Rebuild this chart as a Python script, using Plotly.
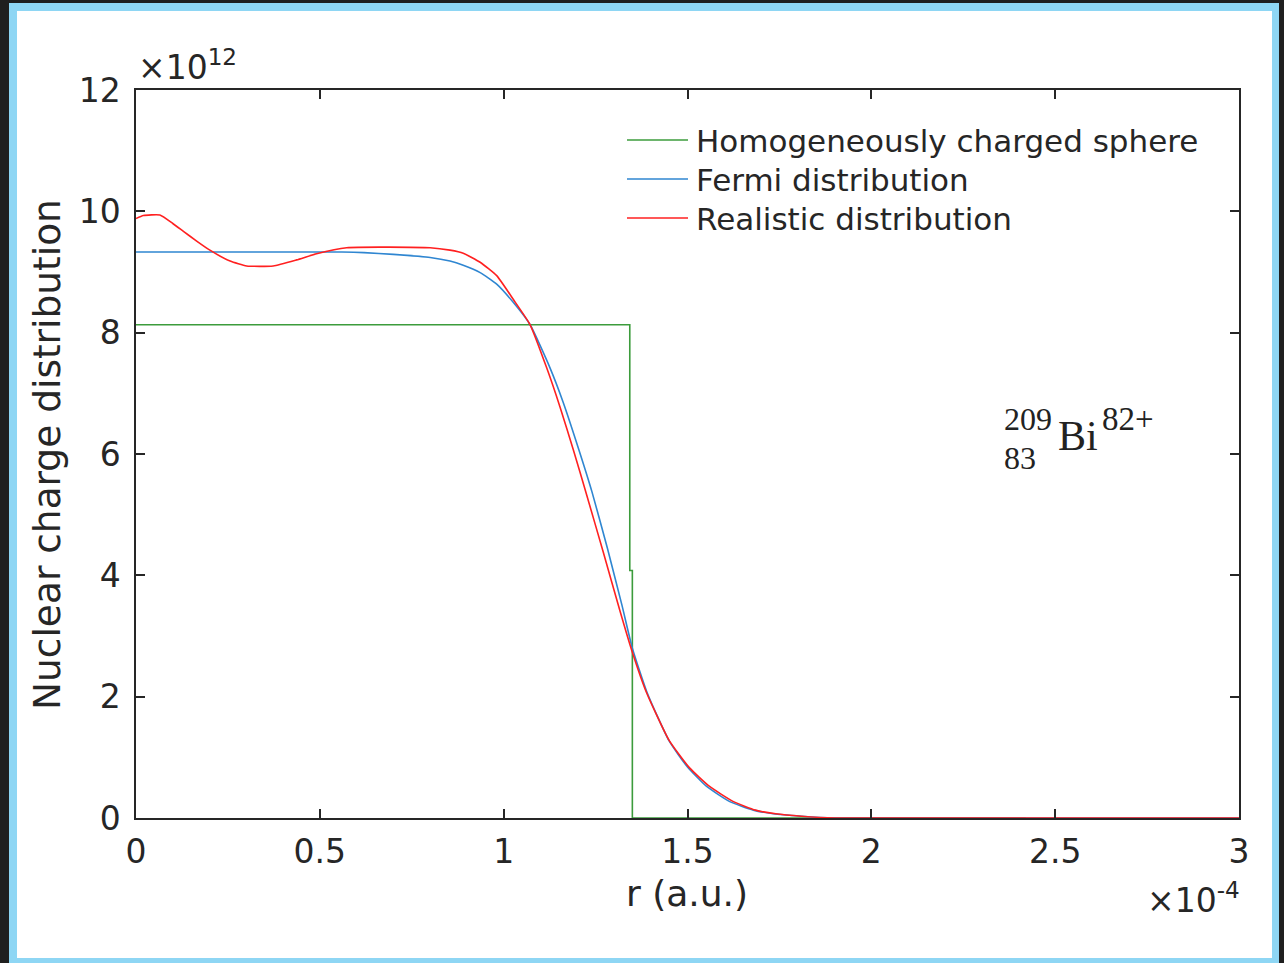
import plotly.graph_objects as go

# r in units of 1e-4 a.u., charge distribution in units of 1e12
r_sphere = [0.0, 1.343, 1.343, 1.350, 1.350, 2.42]
v_sphere = [8.13, 8.13, 4.08, 4.08, 0.0, 0.0]

r_fermi = [0.0, 0.56, 0.62, 0.70, 0.80, 0.854, 0.89, 0.936, 0.981, 1.026, 1.072,
           1.126, 1.162, 1.203, 1.240, 1.282, 1.322, 1.350, 1.390, 1.45, 1.50, 1.552,
           1.615, 1.679, 1.733, 1.81, 1.90, 3.0]
v_fermi = [9.33, 9.33, 9.32, 9.29, 9.24, 9.18, 9.11, 8.99, 8.80, 8.50, 8.13,
           7.42, 6.85, 6.10, 5.38, 4.45, 3.50, 2.80, 2.07, 1.27, 0.84, 0.52,
           0.27, 0.13, 0.07, 0.03, 0.0, 0.0]

r_real = [0.0, 0.02, 0.065, 0.10, 0.129, 0.165, 0.201, 0.256, 0.301, 0.373, 0.437,
          0.491, 0.573, 0.80, 0.854, 0.89, 0.936, 0.981, 1.026, 1.072, 1.117, 1.153,
          1.189, 1.226, 1.271, 1.316, 1.348, 1.389, 1.45, 1.505, 1.56, 1.625, 1.685,
          1.74, 1.81, 1.90, 3.0]
v_real = [9.88, 9.93, 9.94, 9.80, 9.67, 9.51, 9.36, 9.18, 9.10, 9.10, 9.20,
          9.30, 9.40, 9.40, 9.36, 9.31, 9.16, 8.94, 8.55, 8.13, 7.42, 6.78,
          6.08, 5.32, 4.38, 3.42, 2.77, 2.06, 1.28, 0.83, 0.52, 0.27, 0.13,
          0.07, 0.03, 0.0, 0.0]

x_ticks = [0, 0.5, 1, 1.5, 2, 2.5, 3]
x_labels = ["0", "0.5", "1", "1.5", "2", "2.5", "3"]
y_ticks = [0, 2, 4, 6, 8, 10, 12]
y_labels = ["0", "2", "4", "6", "8", "10", "12"]

series_names = ["Homogeneously charged sphere", "Fermi distribution", "Realistic distribution"]
series_colors = ["#3c9c3c", "#2f86d1", "#ff2020"]

W, H = 1284, 963
L, R, T, B = 136, 1239, 90, 818


def px(x):
    return (x - L) / (R - L)


def py(y):
    return (B - y) / (B - T)


fig = go.Figure()
fig.add_trace(go.Scatter(x=r_sphere, y=v_sphere, mode="lines", name=series_names[0],
                         line=dict(color=series_colors[0], width=1.6), showlegend=False))
fig.add_trace(go.Scatter(x=r_fermi, y=v_fermi, mode="lines", name=series_names[1],
                         line=dict(color=series_colors[1], width=1.6, shape="spline", smoothing=0.5),
                         showlegend=False))
fig.add_trace(go.Scatter(x=r_real, y=v_real, mode="lines", name=series_names[2],
                         line=dict(color=series_colors[2], width=1.6, shape="spline", smoothing=0.5),
                         showlegend=False))

axis_col = "#262626"
font = "DejaVu Sans"

shapes = [
    dict(type="rect", xref="paper", yref="paper", layer="below",
         x0=px(9), x1=px(1279), y0=py(3), y1=py(964),
         fillcolor="#8ed6f4", line=dict(width=0)),
    dict(type="rect", xref="paper", yref="paper", layer="below",
         x0=px(17), x1=px(1272), y0=py(11), y1=py(958),
         fillcolor="white", line=dict(width=0)),
]
annotations = []
leg_y = [140, 179, 218]
for name, col, yy in zip(series_names, series_colors, leg_y):
    shapes.append(dict(type="line", xref="paper", yref="paper",
                       x0=px(627), x1=px(688), y0=py(yy), y1=py(yy),
                       line=dict(color=col, width=1.6)))
    annotations.append(dict(xref="paper", yref="paper", x=px(694), y=py(yy + 1),
                            xanchor="left", yanchor="middle", showarrow=False,
                            text=name, font=dict(family=font, size=31, color=axis_col)))

annotations += [
    dict(xref="paper", yref="paper", x=px(687), y=py(893), xanchor="center", yanchor="middle",
         showarrow=False, text="r (a.u.)", font=dict(family=font, size=36, color=axis_col)),
    dict(xref="paper", yref="paper", x=px(47), y=py(455), xanchor="center", yanchor="middle",
         showarrow=False, textangle=-90, text="Nuclear charge distribution",
         font=dict(family=font, size=37.5, color=axis_col)),
    dict(xref="paper", yref="paper", x=px(136), y=py(66), xanchor="left", yanchor="middle",
         showarrow=False, text="×10<sup>12</sup>", font=dict(family=font, size=33, color=axis_col)),
    dict(xref="paper", yref="paper", x=px(1242), y=py(898), xanchor="right", yanchor="middle",
         showarrow=False, text="×10<sup>-4</sup>", font=dict(family=font, size=33, color=axis_col)),
    dict(xref="paper", yref="paper", x=px(1002), y=py(419), xanchor="left", yanchor="middle",
         showarrow=False, text="209", font=dict(family="Liberation Serif", size=32, color="#222")),
    dict(xref="paper", yref="paper", x=px(1002), y=py(458), xanchor="left", yanchor="middle",
         showarrow=False, text="83", font=dict(family="Liberation Serif", size=32, color="#222")),
    dict(xref="paper", yref="paper", x=px(1056), y=py(436), xanchor="left", yanchor="middle",
         showarrow=False, text="Bi", font=dict(family="Liberation Serif", size=42, color="#222")),
    dict(xref="paper", yref="paper", x=px(1100), y=py(419), xanchor="left", yanchor="middle",
         showarrow=False, text="82+", font=dict(family="Liberation Serif", size=33, color="#222")),
]

fig.update_layout(
    width=W, height=H,
    margin=dict(l=L, r=W - R, t=T, b=H - B, pad=0),
    paper_bgcolor="#1f1f1f",
    plot_bgcolor="white",
    shapes=shapes,
    annotations=annotations,
    showlegend=False,
    xaxis=dict(range=[0, 3], tickvals=x_ticks, ticktext=x_labels, ticks="inside", ticklen=9,
               tickwidth=1.5, tickcolor=axis_col, showline=True, linecolor=axis_col, linewidth=1.5,
               mirror="ticks", showgrid=False, zeroline=False, ticklabelstandoff=4,
               tickfont=dict(family=font, size=33, color=axis_col)),
    yaxis=dict(range=[0, 12], tickvals=y_ticks, ticktext=y_labels, ticks="inside", ticklen=9,
               tickwidth=1.5, tickcolor=axis_col, showline=True, linecolor=axis_col, linewidth=1.5,
               mirror="ticks", showgrid=False, zeroline=False, ticklabelstandoff=7,
               tickfont=dict(family=font, size=33, color=axis_col)),
)

fig.write_html(
    "out.html",
    config={"displayModeBar": False},
    post_script="document.body.style.margin='0px';document.body.style.overflow='hidden';"
                "document.documentElement.style.overflow='hidden';",
)
